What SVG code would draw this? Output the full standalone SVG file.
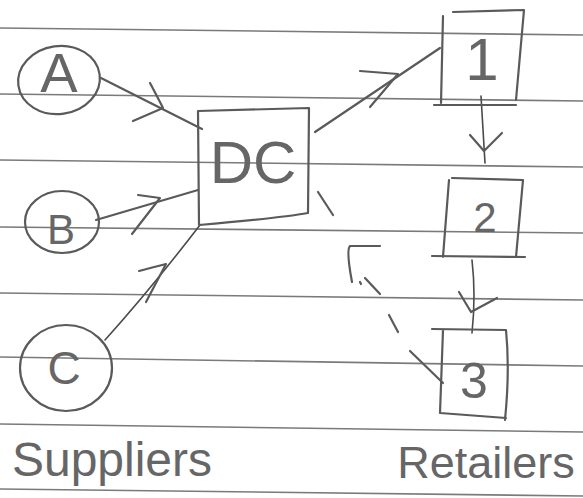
<svg xmlns="http://www.w3.org/2000/svg" width="583" height="498" viewBox="0 0 583 498">
<style>
.rule{stroke:#7a7a7a;stroke-width:1.6;fill:none}
.pen{stroke:#5a5a5a;stroke-width:2.2;fill:none;stroke-linecap:round;stroke-linejoin:round}
.thin{stroke:#4a4a4a;stroke-width:1.6;fill:none;stroke-linecap:round;stroke-linejoin:round}
.dash{stroke:#5a5a5a;stroke-width:2.2;fill:none;stroke-linecap:round}
text{font-family:"Liberation Sans","DejaVu Sans",sans-serif;fill:#666666;text-anchor:middle}
</style>
<rect width="583" height="498" fill="#ffffff"/>
<g id="paper">
<line class="rule" x1="0" y1="28" x2="583" y2="35"/>
<line class="rule" x1="0" y1="94" x2="583" y2="101"/>
<line class="rule" x1="0" y1="160" x2="583" y2="167"/>
<line class="rule" x1="0" y1="227" x2="583" y2="233"/>
<line class="rule" x1="0" y1="293" x2="583" y2="300"/>
<line class="rule" x1="0" y1="357" x2="583" y2="366"/>
<line class="rule" x1="0" y1="424" x2="583" y2="432"/>
<line class="rule" x1="0" y1="489" x2="583" y2="496"/>
</g>
<g id="connectors">
<path class="pen" d="M101 78 L202 129"/>
<path class="pen" d="M150 83 Q158 98 163 108 L133 121"/>
<path class="pen" d="M96 220 L198 190"/>
<path class="pen" d="M138 195 L160 198 L132 234"/>
<path class="thin" d="M105 340 Q150 290 200 225"/>
<path class="pen" d="M139 271 Q150 268 166 264 L146 302"/>
<path class="pen" d="M315 132 L440 48"/>
<path class="pen" d="M360 71 L398 74 L370 107"/>
<path class="thin" d="M481 96 L485 163"/>
<path class="pen" d="M470 135 L484 151 L502 133"/>
<path class="thin" d="M472 260 Q476 295 472 333"/>
<path class="pen" d="M459 292 L471 312 L497 298"/>
<path class="dash" d="M410 351 L443 383"/>
<path class="dash" d="M389 315 L398 332"/>
<path class="dash" d="M365 278 L380 294"/>
<path class="dash" d="M360 282 L361 284"/>
<path class="dash" d="M318 192 L333 215"/>
<path class="pen" d="M380 246 L350 246 Q346 250 352 282"/>
</g>
<g id="node-A">
<ellipse class="pen" cx="59" cy="80" rx="41" ry="34" transform="rotate(-8 59 80)"/>
<text x="59" y="92" font-size="56">A</text>
</g>
<g id="node-B">
<ellipse class="pen" cx="62" cy="222" rx="37" ry="31"/>
<text x="61" y="244" font-size="42">B</text>
</g>
<g id="node-C">
<ellipse class="pen" cx="66" cy="368" rx="46" ry="43"/>
<text x="64" y="384" font-size="46">C</text>
</g>
<g id="node-DC">
<path class="pen" d="M198 111 L309 108 L308 213 Q280 218 199 225 Z"/>
<text x="253" y="183" font-size="60">DC</text>
</g>
<g id="node-1">
<path class="pen" d="M453 12 L524 10 L516 100 M443 16 L441 103 M434 105 L516 105"/>
<text x="482" y="80" font-size="60">1</text>
</g>
<g id="node-2">
<path class="pen" d="M452 178 L523 180 L516 257 M449 180 L443 257 M432 256 L525 257"/>
<text x="485" y="232" font-size="42">2</text>
</g>
<g id="node-3">
<path class="pen" d="M432 329 L506 330 Q510 370 505 420 M443 330 L440 413 L506 418"/>
<text x="474" y="398" font-size="50">3</text>
</g>
<g id="labels">
<text x="112" y="476" font-size="48">Suppliers</text>
<text x="486" y="478" font-size="45">Retailers</text>
</g>
</svg>
